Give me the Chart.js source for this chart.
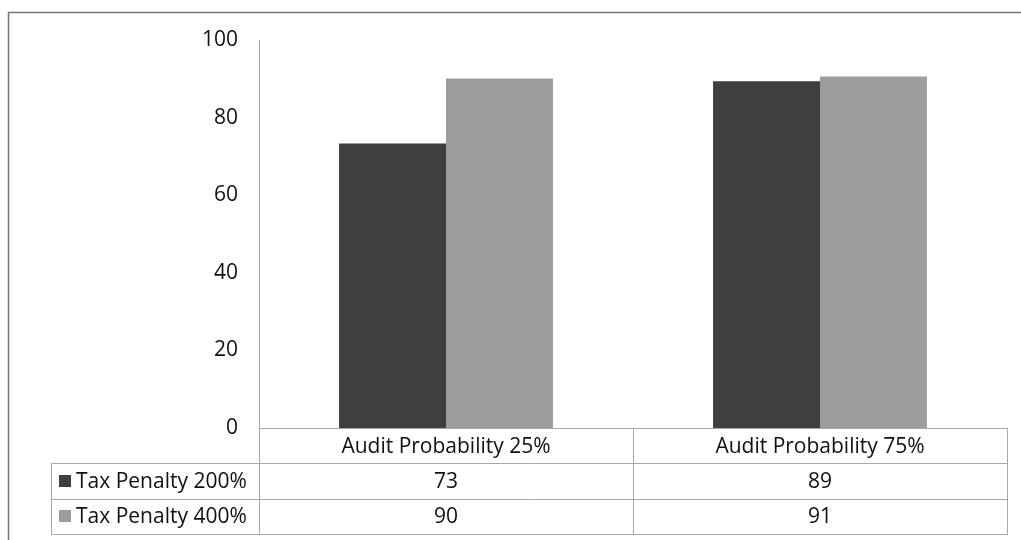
<!DOCTYPE html>
<html>
<head>
<meta charset="utf-8">
<script src="https://cdn.jsdelivr.net/npm/chart.js@4"></script>
<style>
  html, body { margin: 0; padding: 0; background: #fff; }
  #wrap { width: 1021px; height: 540px; position: relative; }
</style>
</head>
<body>
<div id="wrap"><canvas id="chart" width="1021" height="540"></canvas></div>
<script>
// chart data
const categories = ["Audit Probability 25%", "Audit Probability 75%"];
const seriesNames = ["Tax Penalty 200%", "Tax Penalty 400%"];
const penalty200 = [73.3, 89.4];
const penalty400 = [90.1, 90.6];
const yTicks = [0, 20, 40, 60, 80, 100];

const colors = ["#3f3f3f", "#9d9d9d"];
const lineColor = "#a9a9a9";
const textColor = "#111";
const fontFamily = "'Open Sans', 'Noto Sans', sans-serif";
const fontSize = 21;

// draws the data table under the x axis plus the frame round the chart
const tablePlugin = {
    id: "dataTable",
    beforeDraw(chart) {
        const ctx = chart.ctx;
        ctx.save();
        ctx.strokeStyle = "#777";
        ctx.lineWidth = 1.5;
        ctx.beginPath();
        ctx.moveTo(8.5, 540);
        ctx.lineTo(8.5, 12.5);
        ctx.lineTo(1021, 12.5);
        ctx.stroke();
        ctx.restore();
    },
    afterDraw(chart) {
        const ctx = chart.ctx;
        const area = chart.chartArea;
        const rowH = 35.3;
        const tableLeft = 51;
        const top = area.bottom;
        const rows = [penalty200, penalty400];
        const catW = (area.right - area.left) / categories.length;

        ctx.save();
        ctx.strokeStyle = lineColor;
        ctx.lineWidth = 1;
        ctx.beginPath();
        // header row
        ctx.moveTo(area.left, top + 0.5);
        ctx.lineTo(area.right + 0.5, top + 0.5);
        for (let r = 1; r <= rows.length + 1; r++) {
            const y = Math.round(top + r * rowH) + 0.5;
            ctx.moveTo(tableLeft, y);
            ctx.lineTo(area.right + 0.5, y);
        }
        // verticals
        const bottom = Math.round(top + (rows.length + 1) * rowH) + 0.5;
        ctx.moveTo(tableLeft + 0.5, Math.round(top + rowH) + 0.5);
        ctx.lineTo(tableLeft + 0.5, bottom);
        for (let i = 0; i <= categories.length; i++) {
            const x = Math.round(area.left + i * catW) + 0.5;
            ctx.moveTo(x, top);
            ctx.lineTo(x, bottom);
        }
        ctx.stroke();

        ctx.fillStyle = textColor;
        ctx.font = fontSize + "px " + fontFamily;
        ctx.textBaseline = "middle";
        ctx.textAlign = "center";
        const xs = chart.scales.x;
        categories.forEach((c, i) => {
            ctx.fillText(c, xs.getPixelForValue(i), top + rowH / 2 + 1);
        });
        rows.forEach((vals, r) => {
            const yMid = top + (r + 1) * rowH + rowH / 2 + 1;
            vals.forEach((v, i) => {
                ctx.fillText(String(Math.round(v)), xs.getPixelForValue(i), yMid);
            });
        });
        ctx.textAlign = "left";
        seriesNames.forEach((name, r) => {
            const yMid = top + (r + 1) * rowH + rowH / 2;
            ctx.fillStyle = colors[r];
            ctx.fillRect(59, Math.round(yMid - 6), 12, 12);
            ctx.fillStyle = textColor;
            ctx.fillText(name, 76, yMid + 1);
        });
        ctx.restore();
    }
};

new Chart(document.getElementById("chart"), {
    type: "bar",
    data: {
        labels: categories,
        datasets: [
            { label: seriesNames[0], data: penalty200, backgroundColor: colors[0], borderWidth: 0 },
            { label: seriesNames[1], data: penalty400, backgroundColor: colors[1], borderWidth: 0 },
        ],
    },
    options: {
        responsive: false,
        animation: false,
        categoryPercentage: 0.572,
        barPercentage: 1.0,
        layout: { padding: { top: 40, right: 14, left: 0, bottom: 0 } },
        plugins: {
            legend: { display: false },
            tooltip: { enabled: false },
        },
        scales: {
            x: {
                grid: { display: false, drawTicks: false },
                border: { display: false },
                ticks: { display: false },
                afterFit(scale) { scale.height = 112; },
            },
            y: {
                min: 0,
                max: 100,
                afterBuildTicks(scale) { scale.ticks = yTicks.map(v => ({ value: v })); },
                grid: { display: false, drawTicks: false },
                border: { display: true, color: lineColor, width: 1 },
                ticks: {
                    padding: 21,
                    color: textColor,
                    font: { family: fontFamily, size: fontSize },
                },
                afterFit(scale) { scale.width = 259; },
            },
        },
    },
    plugins: [tablePlugin],
});
</script>
</body>
</html>
